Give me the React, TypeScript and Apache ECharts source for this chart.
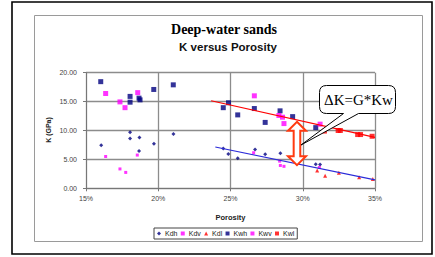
import React, { useEffect, useRef } from "react";
import * as echarts from "echarts";

// ---- data (porosity in %, K in GPa) ----
const seriesNames = ["Kdh", "Kdv", "Kdl", "Kwh", "Kwv", "Kwl"];
const xTickStep = 5;
const yTickStep = 5;

const kdh = [
  [16.05, 7.45], [18.05, 9.7], [18.05, 8.6], [18.7, 8.8], [18.67, 6.45], [19.7, 7.7],
  [21.05, 9.4], [24.5, 6.9], [24.85, 5.95], [25.5, 5.2], [26.7, 6.7], [27.4, 5.9],
  [28.45, 6.05], [30.9, 4.15], [31.2, 4.1],
];
const kdv = [
  [16.36, 5.5], [17.35, 3.35], [17.75, 2.75], [18.55, 5.75], [26.6, 6.15], [28.4, 4.7],
  [28.45, 3.95], [28.7, 3.8], [31.15, 3.6],
];
const kdl = [[31.0, 3.1], [31.55, 2.15], [32.5, 2.7], [33.9, 1.9], [34.85, 1.6]];
const kwh = [
  [16.02, 18.45], [18.05, 15.9], [18.05, 14.9], [18.67, 15.6], [18.74, 15.3], [19.69, 17.1],
  [21.04, 17.9], [24.5, 13.95], [24.86, 14.8], [25.5, 12.7], [26.65, 13.8], [27.4, 11.4],
  [28.43, 13.4], [29.3, 12.4], [30.9, 10.5],
];
const kwv = [
  [16.36, 16.4], [17.35, 14.95], [17.7, 13.95], [18.58, 16.55], [26.65, 16.0], [28.35, 12.6],
  [28.6, 12.3], [28.7, 11.2], [31.2, 11.1],
];
const kwl = [[31.5, 9.9], [32.45, 10.0], [32.6, 10.0], [33.8, 9.3], [34.0, 9.3], [34.8, 9.0]];
const wetTrend = [[23.66, 15.15], [35, 8.8]];
const dryTrend = [[23.95, 7.15], [35, 1.45]];
const arrowPorosity = 29.6;
const arrowTopK = 11.5;
const arrowBottomK = 4.0;

// speech-bubble callout outline (relative to its top-left corner)
const bubblePath =
  "M7,0 H69 Q76,0 76,7 V21 Q76,28 69,28 H39 L-18.5,59.5 L24,28 H7 Q0,28 0,21 V7 Q0,0 7,0 Z";
echarts.graphic.registerShape("bubble", echarts.graphic.extendPath(bubblePath, {}));

const SANS = "'Liberation Sans', Arial, sans-serif";
const SERIF = "'Liberation Serif', 'Times New Roman', serif";

export default function App() {
  const ref = useRef<HTMLDivElement>(null);

  useEffect(() => {
    if (!ref.current) return;
    const chart = echarts.init(ref.current, null, { renderer: "svg" });

    const scatter = (name: string, data: number[][], symbol: string, size: number, color: string) => ({
      name,
      type: "scatter",
      data,
      symbol,
      symbolSize: size,
      itemStyle: { color },
      z: 3,
    });

    const option: any = {
      animation: false,
      backgroundColor: "#ffffff",
      grid: { left: 86, right: 60, top: 72.7, bottom: 68.7, containLabel: false },
      xAxis: {
        type: "value",
        min: 15,
        max: 35,
        interval: xTickStep,
        name: "Porosity",
        nameLocation: "middle",
        nameGap: 25,
        nameTextStyle: { fontFamily: SANS, fontSize: 7.5, fontWeight: "bold", color: "#222" },
        axisLine: { show: true, lineStyle: { color: "#777", width: 1 } },
        axisTick: { show: true, length: 3, lineStyle: { color: "#777" } },
        axisLabel: { formatter: "{value}%", fontFamily: SANS, fontSize: 7, color: "#444", margin: 7 },
        splitLine: { show: true, lineStyle: { color: "#8c8c8c", width: 1.3 } },
      },
      yAxis: {
        type: "value",
        min: 0,
        max: 20,
        interval: yTickStep,
        axisLine: { show: true, lineStyle: { color: "#777", width: 1 } },
        axisTick: { show: true, length: 3, lineStyle: { color: "#777" } },
        axisLabel: {
          formatter: (v: number) => v.toFixed(2),
          fontFamily: SANS,
          fontSize: 7,
          color: "#444",
          margin: 9,
        },
        splitLine: { show: true, lineStyle: { color: "#8c8c8c", width: 1.3 } },
      },
      legend: {
        data: seriesNames,
        left: 154,
        top: 228,
        orient: "horizontal",
        padding: [2, 3],
        itemGap: 3.3,
        itemWidth: 4,
        itemHeight: 4,
        borderColor: "#444",
        borderWidth: 1,
        textStyle: { fontFamily: SANS, fontSize: 7, color: "#222", padding: [0, 0, 0, -1] },
      },
      series: [
        scatter("Kdh", kdh, "diamond", 4, "#000080"),
        scatter("Kdv", kdv, "rect", 3, "#ff00ff"),
        scatter("Kdl", kdl, "triangle", 4, "#ff0000"),
        scatter("Kwh", kwh, "rect", 5, "#000080"),
        scatter("Kwv", kwv, "rect", 5, "#ff00ff"),
        scatter("Kwl", kwl, "rect", 5, "#ff0000"),
        {
          name: "wet trend",
          type: "line",
          data: wetTrend,
          showSymbol: false,
          symbol: "none",
          lineStyle: { color: "#ff0000", width: 1.2 },
          z: 4,
        },
        {
          name: "dry trend",
          type: "line",
          data: dryTrend,
          showSymbol: false,
          symbol: "none",
          lineStyle: { color: "#2a2ad8", width: 1.2 },
          z: 4,
        },
      ],
    };
    chart.setOption(option);

    const top = chart.convertToPixel({ gridIndex: 0 }, [arrowPorosity, arrowTopK]) as number[];
    const bot = chart.convertToPixel({ gridIndex: 0 }, [arrowPorosity, arrowBottomK]) as number[];
    const c = top[0];
    const hh = 9; // head height
    const hw = 9; // head half width
    const sw = 3.3; // shaft half width
    const arrowPoints = [
      [c, top[1]], [c + hw, top[1] + hh], [c + sw, top[1] + hh], [c + sw, bot[1] - hh],
      [c + hw, bot[1] - hh], [c, bot[1]], [c - hw, bot[1] - hh], [c - sw, bot[1] - hh],
      [c - sw, top[1] + hh], [c - hw, top[1] + hh],
    ];

    chart.setOption({
      graphic: [
        { type: "rect", shape: { x: 12, y: 2, width: 420, height: 252 }, style: { fill: "none", stroke: "#000", lineWidth: 1.6 }, z: 1 },
        { type: "rect", shape: { x: 34.5, y: 15.5, width: 388, height: 226 }, style: { fill: "none", stroke: "#9a9a9a", lineWidth: 1 }, z: 1 },
        {
          type: "text", x: 224, y: 29.5,
          style: { text: "Deep-water sands", font: `bold 14px ${SERIF}`, fill: "#000", textAlign: "center", textVerticalAlign: "middle" },
        },
        {
          type: "text", x: 228, y: 46.5,
          style: { text: "K versus Porosity", font: `bold 11.5px ${SANS}`, fill: "#111", textAlign: "center", textVerticalAlign: "middle" },
        },
        {
          type: "text", x: 48, y: 130, rotation: Math.PI / 2,
          style: { text: "K (GPa)", font: `bold 7px ${SANS}`, fill: "#222", textAlign: "center", textVerticalAlign: "middle" },
        },
        {
          type: "polygon",
          shape: { points: arrowPoints },
          style: { fill: "#ffffff", stroke: "#ff3a10", lineWidth: 2 },
          z: 10,
        },
        {
          type: "bubble", x: 319.5, y: 85.5,
          style: { fill: "#ffffff", stroke: "#000000", lineWidth: 1 },
          z: 11,
        },
        {
          type: "text", x: 324, y: 99.5,
          style: { text: "ΔK=G*Kw", font: `15px ${SERIF}`, fill: "#000", textAlign: "left", textVerticalAlign: "middle" },
          z: 12,
        },
      ],
    });

    return () => chart.dispose();
  }, []);

  return (
    <div
      style={{ position: "fixed", left: 0, top: 0, width: 435, height: 257, background: "#fff" }}
    >
      <div ref={ref} style={{ width: 435, height: 257 }} />
    </div>
  );
}
